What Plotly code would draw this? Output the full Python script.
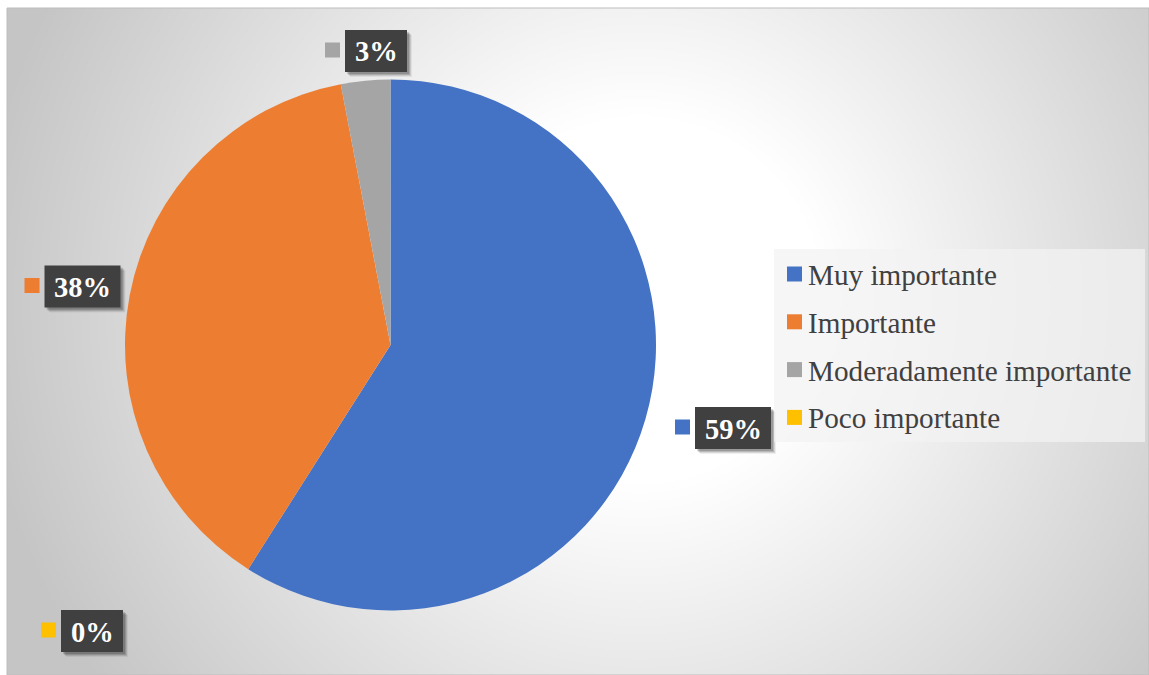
import base64
import struct
import zlib

import numpy as np
import plotly.graph_objects as go

# ---- data ----
categorias = ["Muy importante", "Importante", "Moderadamente importante", "Poco importante"]
porcentajes = [59, 38, 3, 0]
colores = ["#4472C4", "#ED7D31", "#A5A5A5", "#FFC000"]

# ---- layout constants (pixels) ----
W, H = 1149, 675
FRAME = (7, 8, W, H)                 # chart area: x0, y0, x1, y1
PIE_CX, PIE_CY, PIE_R = 390.5, 345, 265.5
# centre of each data-label box, same order as categorias
label_centros = [(733, 428), (82.5, 286.5), (376, 51), (92, 631)]
LABEL_FS = 28.5
LEGEND_FS = 29.2
LEGEND_BOX = (774, 249, 1145, 442)
LEGEND_ROW0, LEGEND_STEP = 274, 47.8
SERIF = "Liberation Serif, Times New Roman, DejaVu Serif, serif"


def px(x):
    return x / W


def py(y):
    return 1 - y / H


def png_data_uri(arr):
    h, w, _ = arr.shape
    raw = b"".join(b"\x00" + arr[i].tobytes() for i in range(h))

    def chunk(tag, data):
        c = struct.pack(">I", len(data)) + tag + data
        return c + struct.pack(">I", zlib.crc32(tag + data) & 0xFFFFFFFF)

    png = (b"\x89PNG\r\n\x1a\n"
           + chunk(b"IHDR", struct.pack(">IIBBBBB", w, h, 8, 2, 0, 0, 0))
           + chunk(b"IDAT", zlib.compress(raw, 9))
           + chunk(b"IEND", b""))
    return "data:image/png;base64," + base64.b64encode(png).decode()


# radial grey background of the chart area (half resolution, stretched)
fx0, fy0, fx1, fy1 = FRAME
gw, gh = (fx1 - fx0) // 2, (fy1 - fy0) // 2
xs = np.linspace(fx0, fx1, gw)
ys = np.linspace(fy0, fy1, gh)
XX, YY = np.meshgrid(xs, ys)
t = np.sqrt(((XX - 640) / 620) ** 2 + ((YY - 300) / 620) ** 2)
s = np.clip((t - 0.3) / 0.78, 0, 1)
v = (255 - 58 * s).astype(np.uint8)
fondo = np.stack([v, v, v], axis=-1)

fig = go.Figure()
fig.add_trace(go.Pie(
    labels=categorias,
    values=porcentajes,
    marker=dict(colors=colores, line=dict(width=0)),
    sort=False,
    direction="clockwise",
    rotation=0,
    textinfo="none",
    hoverinfo="label+percent",
    showlegend=False,
    domain=dict(x=[px(PIE_CX - PIE_R), px(PIE_CX + PIE_R)],
                y=[py(PIE_CY + PIE_R), py(PIE_CY - PIE_R)]),
))

shapes = []
annotations = []

# chart frame
shapes.append(dict(type="rect", xref="paper", yref="paper",
                   x0=px(fx0), x1=px(fx1), y0=py(fy1), y1=py(fy0),
                   line=dict(color="#BDBDBD", width=1), fillcolor="rgba(0,0,0,0)",
                   layer="below"))

# data labels: dark box with soft shadow, colour key square, white bold text
for pct, color, (cx, cy) in zip(porcentajes, colores, label_centros):
    texto = f"{pct}%"
    ndig = len(str(pct))
    bw = 28 * (0.5 * ndig + 1.0) + 20
    bh = 42
    x0, x1 = cx - bw / 2, cx + bw / 2
    y0, y1 = cy - bh / 2, cy + bh / 2
    for off, op in [(5, 0.06), (4, 0.1), (3, 0.14), (2, 0.16)]:
        shapes.append(dict(type="rect", xref="paper", yref="paper",
                           x0=px(x0 + off), x1=px(x1 + off),
                           y0=py(y1 + off), y1=py(y0 + off),
                           line=dict(width=0), fillcolor=f"rgba(0,0,0,{op})"))
    shapes.append(dict(type="rect", xref="paper", yref="paper",
                       x0=px(x0), x1=px(x1), y0=py(y1), y1=py(y0),
                       line=dict(width=0), fillcolor="#404040"))
    shapes.append(dict(type="rect", xref="paper", yref="paper",
                       x0=px(x0 - 20), x1=px(x0 - 5),
                       y0=py(cy + 6.5), y1=py(cy - 8.5),
                       line=dict(width=0), fillcolor=color))
    annotations.append(dict(xref="paper", yref="paper", x=px(cx), y=py(cy + 1),
                            text=f"<b>{texto}</b>", showarrow=False,
                            xanchor="center", yanchor="middle",
                            font=dict(family=SERIF, size=LABEL_FS, color="white")))

# legend
lx0, ly0, lx1, ly1 = LEGEND_BOX
shapes.append(dict(type="rect", xref="paper", yref="paper",
                   x0=px(lx0), x1=px(lx1), y0=py(ly1), y1=py(ly0),
                   line=dict(width=0), fillcolor="rgba(242,242,242,0.72)"))
for i, (cat, color) in enumerate(zip(categorias, colores)):
    cy = LEGEND_ROW0 + i * LEGEND_STEP
    shapes.append(dict(type="rect", xref="paper", yref="paper",
                       x0=px(787), x1=px(802), y0=py(cy + 7.5), y1=py(cy - 7.5),
                       line=dict(width=0), fillcolor=color))
    annotations.append(dict(xref="paper", yref="paper", x=px(806), y=py(cy + 1),
                            text=cat, showarrow=False,
                            xanchor="left", yanchor="middle",
                            font=dict(family=SERIF, size=LEGEND_FS, color="#404040")))

fig.update_layout(
    width=W, height=H,
    margin=dict(l=0, r=0, t=0, b=0),
    paper_bgcolor="white",
    plot_bgcolor="white",
    font=dict(family=SERIF),
    shapes=shapes,
    annotations=annotations,
    images=[dict(source=png_data_uri(fondo), xref="paper", yref="paper",
                 x=px(fx0), y=py(fy0), sizex=px(fx1) - px(fx0),
                 sizey=py(fy0) - py(fy1), sizing="stretch",
                 xanchor="left", yanchor="top", layer="below")],
)

fig.write_html("out.html")
